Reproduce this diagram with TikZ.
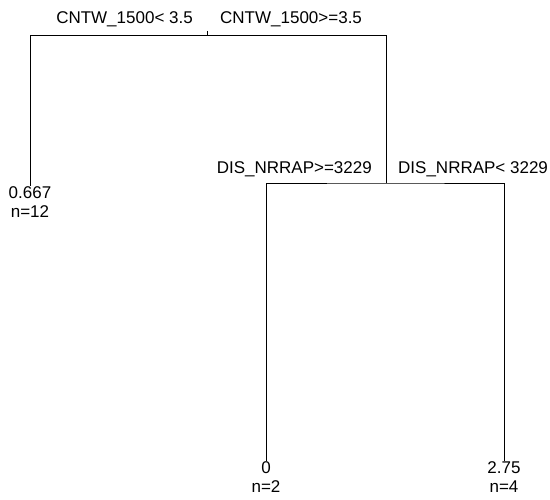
\documentclass[tikz,border=0pt]{standalone}
\usepackage{fontspec}
\setmainfont{Liberation Sans}
\begin{document}
\begin{tikzpicture}[x=1pt,y=-1pt,
  lbl/.style={inner sep=0pt, font=\fontsize{17}{19}\selectfont},
  leaf/.style={lbl, align=center, anchor=north},
  edge/.style={line width=0.9pt, black}]
\useasboundingbox (0,0) rectangle (550,500);
\coordinate (root) at (207,31);
\coordinate (rootbar) at (207,35);
\coordinate (s1) at (386,183);
\node[leaf] (l1) at (30,186) {0.667\\n=12};
\node[leaf] (l2) at (266,461) {0\\n=2};
\node[leaf] (l3) at (504,461) {2.75\\n=4};
\draw[edge] (root) -- (rootbar);
\draw[edge] (l1.north) -- (l1.north |- rootbar) -- (s1 |- rootbar) -- (s1);
\draw[edge] (l2.north) |- (s1) -| (l3.north);
\node[lbl, anchor=base east] (c1l) at (193,24) {CNTW\_1500< 3.5};
\node[lbl, anchor=base west] (c1r) at (220,24) {CNTW\_1500>=3.5};
\node[lbl, anchor=base east] (c2l) at (372,174) {DIS\_NRRAP>=3229};
\node[lbl, anchor=base west] (c2r) at (398,174) {DIS\_NRRAP< 3229};
\end{tikzpicture}
\end{document}
